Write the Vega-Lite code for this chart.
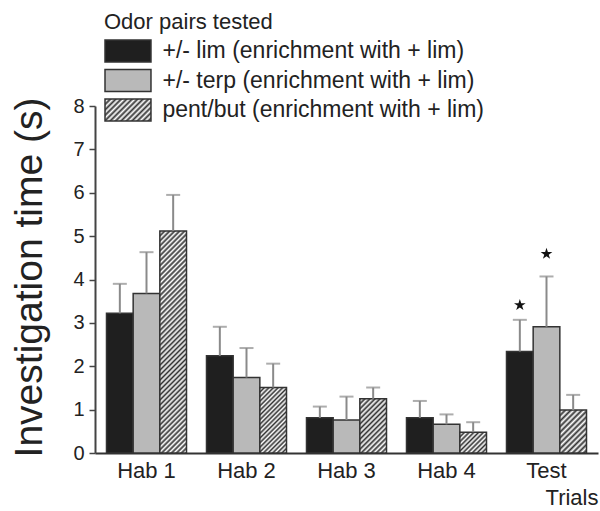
{
  "$schema": "https://vega.github.io/schema/vega-lite/v6.json",
  "width": 503,
  "height": 347,
  "autosize": "none",
  "padding": {"left": 95, "top": 106, "right": 2, "bottom": 58},
  "background": "white",
  "config": {
    "view": {"stroke": null},
    "font": "Liberation Sans",
    "axisY": {"grid": false, "tickCount": 8, "tickSize": 6, "tickWidth": 1.5, "tickColor": "#444", "domainColor": "#444", "domainWidth": 2, "labelFontSize": 20, "labelColor": "#222", "labelPadding": 5, "titleFontSize": 39, "titleFontWeight": "normal", "titleColor": "#222", "titlePadding": 23, "titleY": 171},
    "axisX": {"grid": false, "ticks": false, "tickSize": 0, "domainColor": "#333", "domainWidth": 2, "labelFontSize": 22, "labelColor": "#222", "labelPadding": 7, "labelAngle": 0, "titleFontSize": 22, "titleFontWeight": "normal", "titleColor": "#222", "titleAnchor": "end", "titleAlign": "right", "titlePadding": 6}
  },
  "data": {"values": [
    {"trial": "Hab 1", "series": "+/- lim (enrichment with + lim)", "mean": 3.22, "upper": 3.90},
    {"trial": "Hab 1", "series": "+/- terp (enrichment with + lim)", "mean": 3.68, "upper": 4.63},
    {"trial": "Hab 1", "series": "pent/but (enrichment with + lim)", "mean": 5.12, "upper": 5.95},
    {"trial": "Hab 2", "series": "+/- lim (enrichment with + lim)", "mean": 2.24, "upper": 2.91},
    {"trial": "Hab 2", "series": "+/- terp (enrichment with + lim)", "mean": 1.74, "upper": 2.42},
    {"trial": "Hab 2", "series": "pent/but (enrichment with + lim)", "mean": 1.51, "upper": 2.06},
    {"trial": "Hab 3", "series": "+/- lim (enrichment with + lim)", "mean": 0.81, "upper": 1.07},
    {"trial": "Hab 3", "series": "+/- terp (enrichment with + lim)", "mean": 0.76, "upper": 1.30},
    {"trial": "Hab 3", "series": "pent/but (enrichment with + lim)", "mean": 1.25, "upper": 1.51},
    {"trial": "Hab 4", "series": "+/- lim (enrichment with + lim)", "mean": 0.81, "upper": 1.20},
    {"trial": "Hab 4", "series": "+/- terp (enrichment with + lim)", "mean": 0.66, "upper": 0.89},
    {"trial": "Hab 4", "series": "pent/but (enrichment with + lim)", "mean": 0.48, "upper": 0.71},
    {"trial": "Test", "series": "+/- lim (enrichment with + lim)", "mean": 2.34, "upper": 3.07, "sig": 3.41},
    {"trial": "Test", "series": "+/- terp (enrichment with + lim)", "mean": 2.91, "upper": 4.07, "sig": 4.59},
    {"trial": "Test", "series": "pent/but (enrichment with + lim)", "mean": 0.99, "upper": 1.34}
  ]},
  "encoding": {
    "x": {"field": "trial", "type": "nominal", "sort": ["Hab 1", "Hab 2", "Hab 3", "Hab 4", "Test"], "scale": {"paddingInner": 0.2, "paddingOuter": 0.115}, "title": "Trials"},
    "xOffset": {"field": "series", "type": "nominal", "sort": ["+/- lim (enrichment with + lim)", "+/- terp (enrichment with + lim)", "pent/but (enrichment with + lim)"], "scale": {"paddingInner": 0, "paddingOuter": 0}}
  },
  "layer": [
    {
      "transform": [{"filter": "datum.series === 'pent/but (enrichment with + lim)' && datum.trial === 'Test'"}],
      "mark": {"type": "bar", "opacity": 0},
      "encoding": {
        "y": {"field": "mean", "type": "quantitative", "scale": {"domain": [0, 8], "nice": false}, "title": "Investigation time (s)"},
        "fill": {"value": {"gradient": "linear", "id": "hatchL", "x1": 0, "y1": 0, "x2": 1.2031, "y2": 0.5754, "stops": [
          {"offset":0,"color":"#333"},{"offset":0.04,"color":"#fff"},{"offset":0.08,"color":"#333"},{"offset":0.12,"color":"#fff"},{"offset":0.16,"color":"#333"},{"offset":0.2,"color":"#fff"},{"offset":0.24,"color":"#333"},{"offset":0.28,"color":"#fff"},{"offset":0.32,"color":"#333"},{"offset":0.36,"color":"#fff"},{"offset":0.4,"color":"#333"},{"offset":0.44,"color":"#fff"},{"offset":0.48,"color":"#333"},{"offset":0.52,"color":"#fff"},{"offset":0.56,"color":"#333"},{"offset":0.6,"color":"#fff"},{"offset":0.64,"color":"#333"},{"offset":0.68,"color":"#fff"},{"offset":0.72,"color":"#333"},{"offset":0.76,"color":"#fff"},{"offset":0.8,"color":"#333"},{"offset":0.84,"color":"#fff"},{"offset":0.88,"color":"#333"},{"offset":0.92,"color":"#fff"},{"offset":0.96,"color":"#333"},{"offset":1,"color":"#fff"}
        ]}}
      }
    },
    {
      "mark": {"type": "bar", "stroke": "#333", "strokeWidth": 1.5},
      "encoding": {
        "y": {"field": "mean", "type": "quantitative", "scale": {"domain": [0, 8], "nice": false}, "title": "Investigation time (s)"},
        "fill": {
          "field": "series", "type": "nominal",
          "scale": {
            "domain": ["+/- lim (enrichment with + lim)", "+/- terp (enrichment with + lim)", "pent/but (enrichment with + lim)"],
            "range": ["#1f1f1f", "#b9b9b9", "url(#hatchL)"]
          },
          "legend": {
            "title": "Odor pairs tested", "orient": "none", "legendX": 9, "legendY": -94, "padding": 0,
            "titleFontSize": 22, "titleFontWeight": "normal", "titleColor": "#222", "titlePadding": 5,
            "labelFontSize": 23, "labelColor": "#222", "labelLimit": 0, "labelOffset": 34.5,
            "symbolType": "M-1,-1H3.18V1H-1Z", "symbolSize": 484, "symbolStrokeColor": "#333", "symbolStrokeWidth": 1.5, "symbolOpacity": 1,
            "rowPadding": 1.5
          },
          "condition": [
            {"test": "datum.series === 'pent/but (enrichment with + lim)' && datum.trial === 'Hab 1'",
             "value": {"gradient": "linear", "x1": 0, "y1": 0, "x2": 0.1326, "y2": 1.1042, "stops": [
              {"offset":0,"color":"#333"},{"offset":0.01,"color":"#fff"},{"offset":0.02,"color":"#333"},{"offset":0.03,"color":"#fff"},{"offset":0.04,"color":"#333"},{"offset":0.05,"color":"#fff"},{"offset":0.06,"color":"#333"},{"offset":0.07,"color":"#fff"},{"offset":0.08,"color":"#333"},{"offset":0.09,"color":"#fff"},
              {"offset":0.1,"color":"#333"},{"offset":0.11,"color":"#fff"},{"offset":0.12,"color":"#333"},{"offset":0.13,"color":"#fff"},{"offset":0.14,"color":"#333"},{"offset":0.15,"color":"#fff"},{"offset":0.16,"color":"#333"},{"offset":0.17,"color":"#fff"},{"offset":0.18,"color":"#333"},{"offset":0.19,"color":"#fff"},
              {"offset":0.2,"color":"#333"},{"offset":0.21,"color":"#fff"},{"offset":0.22,"color":"#333"},{"offset":0.23,"color":"#fff"},{"offset":0.24,"color":"#333"},{"offset":0.25,"color":"#fff"},{"offset":0.26,"color":"#333"},{"offset":0.27,"color":"#fff"},{"offset":0.28,"color":"#333"},{"offset":0.29,"color":"#fff"},
              {"offset":0.3,"color":"#333"},{"offset":0.31,"color":"#fff"},{"offset":0.32,"color":"#333"},{"offset":0.33,"color":"#fff"},{"offset":0.34,"color":"#333"},{"offset":0.35,"color":"#fff"},{"offset":0.36,"color":"#333"},{"offset":0.37,"color":"#fff"},{"offset":0.38,"color":"#333"},{"offset":0.39,"color":"#fff"},
              {"offset":0.4,"color":"#333"},{"offset":0.41,"color":"#fff"},{"offset":0.42,"color":"#333"},{"offset":0.43,"color":"#fff"},{"offset":0.44,"color":"#333"},{"offset":0.45,"color":"#fff"},{"offset":0.46,"color":"#333"},{"offset":0.47,"color":"#fff"},{"offset":0.48,"color":"#333"},{"offset":0.49,"color":"#fff"},
              {"offset":0.5,"color":"#333"},{"offset":0.51,"color":"#fff"},{"offset":0.52,"color":"#333"},{"offset":0.53,"color":"#fff"},{"offset":0.54,"color":"#333"},{"offset":0.55,"color":"#fff"},{"offset":0.56,"color":"#333"},{"offset":0.57,"color":"#fff"},{"offset":0.58,"color":"#333"},{"offset":0.59,"color":"#fff"},
              {"offset":0.6,"color":"#333"},{"offset":0.61,"color":"#fff"},{"offset":0.62,"color":"#333"},{"offset":0.63,"color":"#fff"},{"offset":0.64,"color":"#333"},{"offset":0.65,"color":"#fff"},{"offset":0.66,"color":"#333"},{"offset":0.67,"color":"#fff"},{"offset":0.68,"color":"#333"},{"offset":0.69,"color":"#fff"},
              {"offset":0.7,"color":"#333"},{"offset":0.71,"color":"#fff"},{"offset":0.72,"color":"#333"},{"offset":0.73,"color":"#fff"},{"offset":0.74,"color":"#333"},{"offset":0.75,"color":"#fff"},{"offset":0.76,"color":"#333"},{"offset":0.77,"color":"#fff"},{"offset":0.78,"color":"#333"},{"offset":0.79,"color":"#fff"},
              {"offset":0.8,"color":"#333"},{"offset":0.81,"color":"#fff"},{"offset":0.82,"color":"#333"},{"offset":0.83,"color":"#fff"},{"offset":0.84,"color":"#333"},{"offset":0.85,"color":"#fff"},{"offset":0.86,"color":"#333"},{"offset":0.87,"color":"#fff"},{"offset":0.88,"color":"#333"},{"offset":0.89,"color":"#fff"},
              {"offset":0.9,"color":"#333"},{"offset":0.91,"color":"#fff"},{"offset":0.92,"color":"#333"},{"offset":0.93,"color":"#fff"},{"offset":0.94,"color":"#333"},{"offset":0.95,"color":"#fff"},{"offset":0.96,"color":"#333"},{"offset":0.97,"color":"#fff"},{"offset":0.98,"color":"#333"},{"offset":0.99,"color":"#fff"},
              {"offset":1,"color":"#333"}
             ]}},
            {"test": "datum.series === 'pent/but (enrichment with + lim)' && datum.trial === 'Hab 2'",
             "value": {"gradient": "linear", "x1": 0, "y1": 0, "x2": 0.4914, "y2": 1.2071, "stops": [
              {"offset":0,"color":"#333"},{"offset":0.025,"color":"#fff"},{"offset":0.05,"color":"#333"},{"offset":0.075,"color":"#fff"},{"offset":0.1,"color":"#333"},{"offset":0.125,"color":"#fff"},{"offset":0.15,"color":"#333"},{"offset":0.175,"color":"#fff"},{"offset":0.2,"color":"#333"},{"offset":0.225,"color":"#fff"},
              {"offset":0.25,"color":"#333"},{"offset":0.275,"color":"#fff"},{"offset":0.3,"color":"#333"},{"offset":0.325,"color":"#fff"},{"offset":0.35,"color":"#333"},{"offset":0.375,"color":"#fff"},{"offset":0.4,"color":"#333"},{"offset":0.425,"color":"#fff"},{"offset":0.45,"color":"#333"},{"offset":0.475,"color":"#fff"},
              {"offset":0.5,"color":"#333"},{"offset":0.525,"color":"#fff"},{"offset":0.55,"color":"#333"},{"offset":0.575,"color":"#fff"},{"offset":0.6,"color":"#333"},{"offset":0.625,"color":"#fff"},{"offset":0.65,"color":"#333"},{"offset":0.675,"color":"#fff"},{"offset":0.7,"color":"#333"},{"offset":0.725,"color":"#fff"},
              {"offset":0.75,"color":"#333"},{"offset":0.775,"color":"#fff"},{"offset":0.8,"color":"#333"},{"offset":0.825,"color":"#fff"},{"offset":0.85,"color":"#333"},{"offset":0.875,"color":"#fff"},{"offset":0.9,"color":"#333"},{"offset":0.925,"color":"#fff"},{"offset":0.95,"color":"#333"},{"offset":0.975,"color":"#fff"},
              {"offset":1,"color":"#333"}
             ]}},
            {"test": "datum.series === 'pent/but (enrichment with + lim)' && datum.trial === 'Hab 3'",
             "value": {"gradient": "linear", "x1": 0, "y1": 0, "x2": 0.5908, "y2": 1.2013, "stops": [
              {"offset":0,"color":"#333"},{"offset":0.03125,"color":"#fff"},{"offset":0.0625,"color":"#333"},{"offset":0.09375,"color":"#fff"},{"offset":0.125,"color":"#333"},{"offset":0.15625,"color":"#fff"},{"offset":0.1875,"color":"#333"},{"offset":0.21875,"color":"#fff"},
              {"offset":0.25,"color":"#333"},{"offset":0.28125,"color":"#fff"},{"offset":0.3125,"color":"#333"},{"offset":0.34375,"color":"#fff"},{"offset":0.375,"color":"#333"},{"offset":0.40625,"color":"#fff"},{"offset":0.4375,"color":"#333"},{"offset":0.46875,"color":"#fff"},
              {"offset":0.5,"color":"#333"},{"offset":0.53125,"color":"#fff"},{"offset":0.5625,"color":"#333"},{"offset":0.59375,"color":"#fff"},{"offset":0.625,"color":"#333"},{"offset":0.65625,"color":"#fff"},{"offset":0.6875,"color":"#333"},{"offset":0.71875,"color":"#fff"},
              {"offset":0.75,"color":"#333"},{"offset":0.78125,"color":"#fff"},{"offset":0.8125,"color":"#333"},{"offset":0.84375,"color":"#fff"},{"offset":0.875,"color":"#333"},{"offset":0.90625,"color":"#fff"},{"offset":0.9375,"color":"#333"},{"offset":0.96875,"color":"#fff"},
              {"offset":1,"color":"#333"}
             ]}},
            {"test": "datum.series === 'pent/but (enrichment with + lim)' && datum.trial === 'Hab 4'",
             "value": {"gradient": "linear", "x1": 0, "y1": 0, "x2": 1.1064, "y2": 0.8638, "stops": [
              {"offset":0,"color":"#333"},{"offset":0.05,"color":"#fff"},{"offset":0.1,"color":"#333"},{"offset":0.15,"color":"#fff"},{"offset":0.2,"color":"#333"},{"offset":0.25,"color":"#fff"},{"offset":0.3,"color":"#333"},{"offset":0.35,"color":"#fff"},{"offset":0.4,"color":"#333"},{"offset":0.45,"color":"#fff"},
              {"offset":0.5,"color":"#333"},{"offset":0.55,"color":"#fff"},{"offset":0.6,"color":"#333"},{"offset":0.65,"color":"#fff"},{"offset":0.7,"color":"#333"},{"offset":0.75,"color":"#fff"},{"offset":0.8,"color":"#333"},{"offset":0.85,"color":"#fff"},{"offset":0.9,"color":"#333"},{"offset":0.95,"color":"#fff"},
              {"offset":1,"color":"#333"}
             ]}},
            {"test": "datum.series === 'pent/but (enrichment with + lim)' && datum.trial === 'Test'",
             "value": {"gradient": "linear", "x1": 0, "y1": 0, "x2": 0.7265, "y2": 1.1699, "stops": [
              {"offset":0,"color":"#333"},{"offset":0.04,"color":"#fff"},{"offset":0.08,"color":"#333"},{"offset":0.12,"color":"#fff"},{"offset":0.16,"color":"#333"},{"offset":0.2,"color":"#fff"},{"offset":0.24,"color":"#333"},{"offset":0.28,"color":"#fff"},{"offset":0.32,"color":"#333"},{"offset":0.36,"color":"#fff"},{"offset":0.4,"color":"#333"},{"offset":0.44,"color":"#fff"},{"offset":0.48,"color":"#333"},{"offset":0.52,"color":"#fff"},{"offset":0.56,"color":"#333"},{"offset":0.6,"color":"#fff"},{"offset":0.64,"color":"#333"},{"offset":0.68,"color":"#fff"},{"offset":0.72,"color":"#333"},{"offset":0.76,"color":"#fff"},{"offset":0.8,"color":"#333"},{"offset":0.84,"color":"#fff"},{"offset":0.88,"color":"#333"},{"offset":0.92,"color":"#fff"},{"offset":0.96,"color":"#333"},{"offset":1,"color":"#fff"}
             ]}}
          ]
        }
      }
    },
    {
      "mark": {"type": "rule", "color": "#8a8a8a", "strokeWidth": 2},
      "encoding": {
        "y": {"field": "mean", "type": "quantitative", "title": "Investigation time (s)"},
        "y2": {"field": "upper"}
      }
    },
    {
      "mark": {"type": "tick", "color": "#8a8a8a", "thickness": 2, "size": 14, "orient": "horizontal"},
      "encoding": {
        "y": {"field": "upper", "type": "quantitative", "title": "Investigation time (s)"}
      }
    },
    {
      "mark": {"type": "point", "shape": "M0,-1L0.2245,-0.309L0.951,-0.309L0.363,0.118L0.588,0.809L0,0.382L-0.588,0.809L-0.363,0.118L-0.951,-0.309L-0.2245,-0.309Z", "filled": true, "color": "#111", "opacity": 1, "size": 150},
      "encoding": {
        "y": {"field": "sig", "type": "quantitative", "title": "Investigation time (s)"}
      }
    }
  ]
}
